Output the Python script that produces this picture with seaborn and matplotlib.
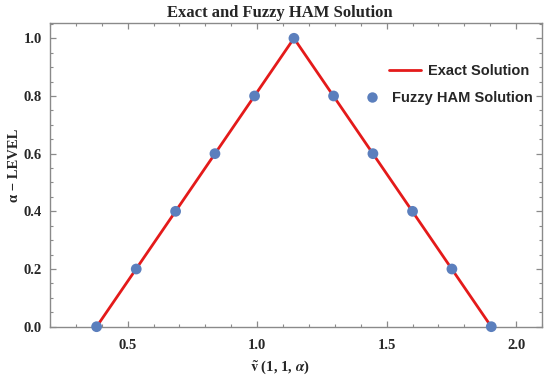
import matplotlib
matplotlib.use("Agg")
import matplotlib.pyplot as plt
import seaborn as sns
import pandas as pd
from matplotlib.ticker import MultipleLocator
from matplotlib.lines import Line2D

# alpha levels and the fuzzy solution values
alpha = [0.0, 0.2, 0.4, 0.6, 0.8, 1.0, 0.8, 0.6, 0.4, 0.2, 0.0]
v_ham = [0.38, 0.533, 0.685, 0.837, 0.99, 1.142, 1.295, 1.447, 1.6, 1.752, 1.904]
# exact solution (triangle)
v_exact = [0.38, 1.142, 1.904]
alpha_exact = [0.0, 1.0, 0.0]

title = "Exact and Fuzzy HAM Solution"
xlabel = "$\\tilde{\\mathbf{v}}$ (1, 1, $\\alpha$)"
ylabel = "α − LEVEL"

sns.set_style("ticks")
plt.rcParams['font.family'] = ['Liberation Serif', 'DejaVu Serif']
plt.rcParams['font.weight'] = 'bold'
plt.rcParams['mathtext.fontset'] = 'stix'

df_ham = pd.DataFrame({'v': v_ham, 'alpha': alpha})
df_exact = pd.DataFrame({'v': v_exact, 'alpha': alpha_exact})

fig = plt.figure(figsize=(5.5, 3.83), dpi=100)
ax = fig.add_axes([0.0909, 0.147, 0.8946, 0.7937])

red = '#e41a1a'
blue = '#5b7fbd'
sns.lineplot(x='v', y='alpha', data=df_exact, ax=ax, color=red, linewidth=2.0, sort=False)
sns.scatterplot(x='v', y='alpha', data=df_ham, ax=ax, color=blue, s=60, edgecolor='none',
                zorder=3, clip_on=False)

ax.set_xlim(0.2, 2.1)
ax.set_ylim(0.0, 1.054)
ax.xaxis.set_major_locator(MultipleLocator(0.5))
ax.xaxis.set_minor_locator(MultipleLocator(0.1))
ax.yaxis.set_major_locator(MultipleLocator(0.2))
ax.yaxis.set_minor_locator(MultipleLocator(0.05))

for sp in ax.spines.values():
    sp.set_visible(True)
    sp.set_color('#8a8a8a')
    sp.set_linewidth(1.0)
ax.tick_params(which='both', direction='in', top=True, right=True, color='#8a8a8a')
ax.tick_params(which='major', length=4.5, width=0.9)
ax.tick_params(which='minor', length=2.5, width=0.8)
ax.tick_params(axis='x', which='major', labelsize=10.5, pad=9)
ax.tick_params(axis='y', which='major', labelsize=10.5, pad=6)
for lab in ax.get_xticklabels() + ax.get_yticklabels():
    lab.set_fontweight('bold')

# title and x label sit over the middle of the whole image, not the axes
ax.set_title(title, fontsize=12, fontweight='bold', pad=4, x=0.4675)
ax.set_xlabel(xlabel, fontsize=10.5, fontweight='bold')
ax.xaxis.set_label_coords(0.4675, -0.105)
ax.set_ylabel(ylabel, fontsize=10.5, fontweight='bold')
ax.yaxis.set_label_coords(-0.059, 0.53)

legfont = {'family': ['Liberation Sans', 'DejaVu Sans'], 'weight': 'bold', 'size': 10.5}
h1 = Line2D([], [], color=red, linewidth=2.0)
h2 = Line2D([], [], color=blue, marker='o', linestyle='none', markersize=7.5, markeredgewidth=0)
leg1 = ax.legend([h1], ['Exact Solution'], loc='center right', bbox_to_anchor=(0.975, 0.84),
                 frameon=False, prop=legfont, handlelength=2.2, handletextpad=0.5,
                 borderaxespad=0, borderpad=0)
ax.add_artist(leg1)
ax.legend([h2], ['Fuzzy HAM Solution'], loc='center right', bbox_to_anchor=(0.982, 0.752),
          frameon=False, prop=legfont, handlelength=2.0, handletextpad=0.4,
          borderaxespad=0, borderpad=0)

plt.savefig("out.png", dpi=100)
